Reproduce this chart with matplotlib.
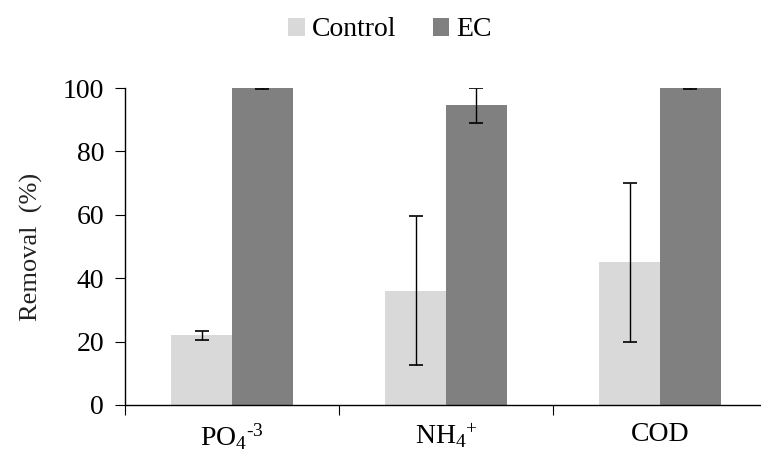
import matplotlib.pyplot as plt
import numpy as np

plt.rcParams['font.family'] = ['Liberation Serif', 'DejaVu Serif']
plt.rcParams['mathtext.fontset'] = 'custom'
plt.rcParams['mathtext.rm'] = 'Liberation Serif'
plt.rcParams['mathtext.it'] = 'Liberation Serif:italic'

categories = [r'PO$_4$$^{\text{-}3}$', r'NH$_4$$^{+}$', 'COD']
control = [22, 36, 45]
control_err = [1.5, 23.5, 25]
ec = [100, 94.5, 100]
ec_err = [0.2, 5.5, 0.2]

fig = plt.figure(figsize=(7.61, 4.55), dpi=100)
ax = fig.add_axes([125 / 761, 50 / 455, 642 / 761, 317 / 455])

x = np.arange(len(categories))
w = 0.285
ekw = dict(ecolor='black', elinewidth=1, capsize=5, capthick=1.2)
ax.bar(x - w / 2, control, w, yerr=control_err, color='#d9d9d9', label='Control', error_kw=ekw)
ax.bar(x + w / 2, ec, w, yerr=ec_err, color='#808080', label='EC', error_kw=ekw)

ax.set_xlim(-0.5, 2.5)
ax.set_ylim(0, 100)
ax.set_yticks(np.arange(0, 101, 20))
ax.set_xticks([-0.5, 0.5, 1.5], minor=False)
ax.set_xticklabels([])
ax.set_xticks(x, minor=True)
ax.set_xticklabels(categories, minor=True)
ax.tick_params(axis='x', which='minor', length=0, pad=12, labelsize=20)
ax.tick_params(axis='x', which='major', length=7, direction='out')
ax.tick_params(axis='y', length=7, direction='out', labelsize=20, pad=8)
for s in ['top', 'right']:
    ax.spines[s].set_visible(False)
ax.spines['left'].set_linewidth(1)
ax.spines['bottom'].set_linewidth(1)
ax.set_ylabel('Removal  (%)', fontsize=19, labelpad=14, color='#222222')

ax.legend(loc='center', bbox_to_anchor=(265 / 642, 1 + 58 / 317), ncol=2, frameon=False,
          fontsize=20, handlelength=0.6, handleheight=0.6, handletextpad=0.25, columnspacing=1.3)

fig.savefig('out.png', dpi=100)
